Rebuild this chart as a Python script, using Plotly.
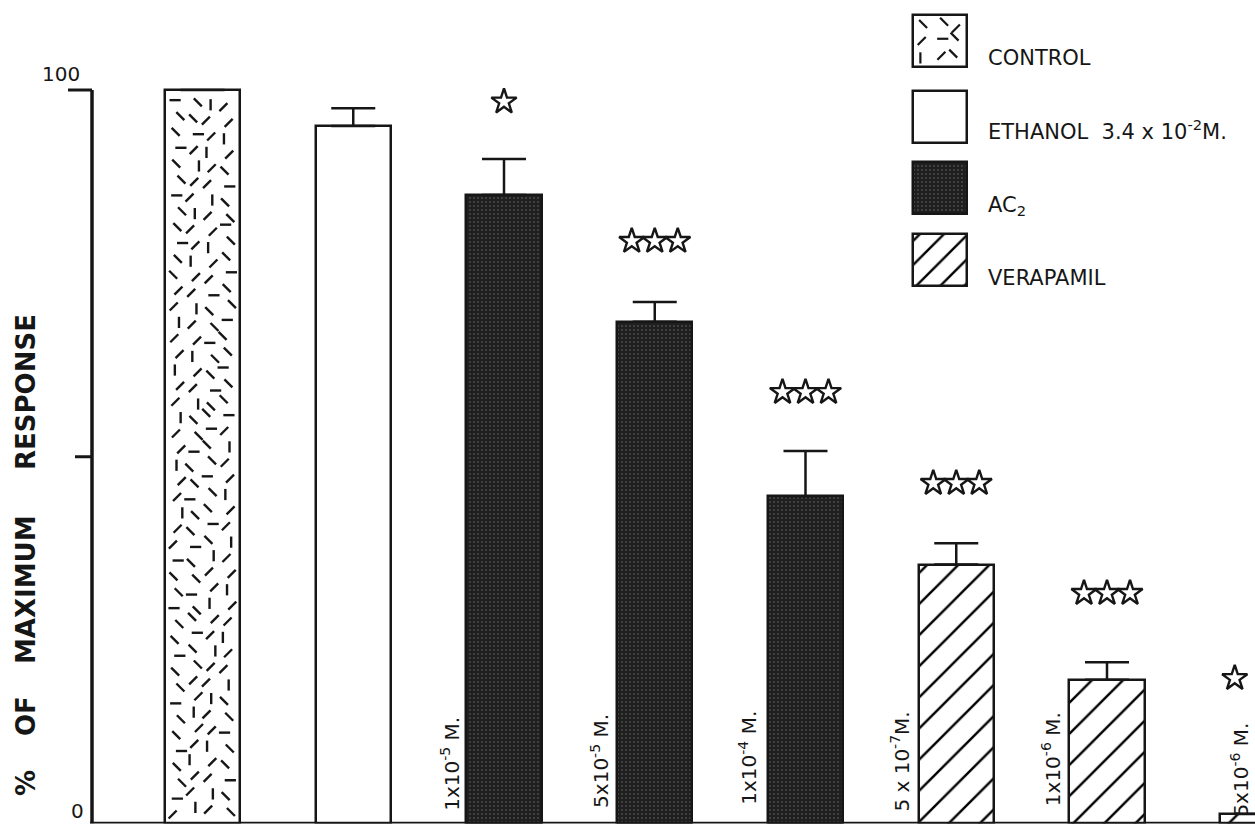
import plotly.graph_objects as go

# ---- data -------------------------------------------------------------
groups = ["control", "ethanol", "ac2", "ac2", "ac2",
          "verapamil", "verapamil", "verapamil"]
dose_labels = ["", "",
               "1x10<sup>-5</sup> M.", "5x10<sup>-5</sup> M.", "1x10<sup>-4</sup> M.",
               "5 x 10<sup>-7</sup>M.", "1x10<sup>-6</sup> M.", "5x10<sup>-6</sup> M."]
response = [100.0, 95.1, 85.7, 68.4, 44.6, 35.3, 19.6, 1.3]
sem = [0.0, 2.4, 4.9, 2.7, 6.2, 2.9, 2.4, 0.0]
n_stars = [0, 0, 1, 3, 3, 3, 3, 3]
legend_names = ["CONTROL", "ETHANOL  3.4 x 10<sup>-2</sup>M.", "AC<sub>2</sub>", "VERAPAMIL"]
legend_groups = ["control", "ethanol", "ac2", "verapamil"]
y_tick_values = [0, 50, 100]
y_tick_labels = ["0", "", "100"]

# ---- layout constants (pixels) -----------------------------------------
W, H = 1255, 827
AX_LEFT = 92          # x of the vertical axis
BASE_Y = 823.5        # y of the zero line
PX_PER_UNIT = 7.335   # vertical pixels per response unit
FIRST = 202.5         # x of the first bar centre
SLOT = 150.75         # distance between bar centres
BAR_W = 0.5
INK = "#161616"
FONT = "DejaVu Sans"

star_level = [None, None, 98.4, 79.4, 58.8, 46.4, 31.4, 19.8]
star_gap = 23 / SLOT
dose_offset = [0, 0, -0.355, -0.36, -0.38, -0.37, -0.37, -0.12]
dose_level = [0, 0, 8.2, 8.6, 9.0, 8.5, 8.8, 7.3]


def pxx(x):
    return x / W


def pxy(y):
    return 1 - y / H


x_range = [(AX_LEFT - FIRST) / SLOT, (W - FIRST) / SLOT]
y_range = [0, BASE_Y / PX_PER_UNIT]

styles = {
    "control": dict(color="white"),
    "ethanol": dict(color="white"),
    "ac2": dict(color="#1f1f1f",
                pattern=dict(shape=".", bgcolor="#1f1f1f", fgcolor="#777777",
                             size=4, solidity=0.2)),
    "verapamil": dict(color="white",
                      pattern=dict(shape="/", bgcolor="white", fgcolor="#000000",
                                   fgopacity=1, size=22, solidity=0.11)),
}


def dash_field(x0, x1, y0, y1, nx, ny, shift=0):
    """Scattered short strokes used as the texture of the control fill."""
    symbols = ["line-ne", "line-nw", "line-ns", "line-ew", "line-ne", "line-nw"]
    xs, ys, syms = [], [], []
    for j in range(ny):
        for i in range(nx):
            k = j * nx + i + shift
            jx = ((k * 0.6180339887) % 1 - 0.5) * 0.6
            jy = ((k * 0.7548776662) % 1 - 0.5) * 0.6
            xs.append(x0 + (i + 0.5 + jx) * (x1 - x0) / nx)
            ys.append(y0 + (j + 0.5 + jy) * (y1 - y0) / ny)
            syms.append(symbols[int((k * 0.4142135 * 6) % 6)])
    return xs, ys, syms


fig = go.Figure()

# ---- bars -------------------------------------------------------------
for g in legend_groups:
    idx = [i for i, gg in enumerate(groups) if gg == g]
    st = styles[g]
    marker = dict(color=st["color"], line=dict(color=INK, width=2.5))
    if "pattern" in st:
        marker["pattern"] = st["pattern"]
    fig.add_trace(go.Bar(
        x=idx, y=[response[i] for i in idx], width=BAR_W,
        marker=marker, showlegend=False,
        error_y=dict(type="data", symmetric=False,
                     array=[sem[i] for i in idx],
                     arrayminus=[0] * len(idx),
                     color=INK, thickness=2.5, width=22,
                     visible=True),
        xaxis="x", yaxis="y", cliponaxis=False,
    ))

# control texture
ci = groups.index("control")
tx, ty, ts = dash_field(ci - BAR_W / 2 + 0.03, ci + BAR_W / 2 - 0.03,
                        0.8, response[ci] - 0.8, 4, 46)
fig.add_trace(go.Scatter(
    x=tx, y=ty, mode="markers", showlegend=False, hoverinfo="skip",
    marker=dict(symbol=ts, size=8, color=INK, line=dict(color=INK, width=2.4)),
    xaxis="x", yaxis="y"))

# significance stars
sx, sy = [], []
for i, n in enumerate(n_stars):
    for s in range(n):
        sx.append(i + (s - (n - 1) / 2) * star_gap)
        sy.append(star_level[i])
fig.add_trace(go.Scatter(
    x=sx, y=sy, mode="markers", showlegend=False, hoverinfo="skip",
    marker=dict(symbol="star-open", size=19, color=INK,
                line=dict(color=INK, width=2.4)),
    xaxis="x", yaxis="y", cliponaxis=False))

# ---- legend swatches (pixel space) ------------------------------------------
box_x0, box_w, box_h = 913, 54, 52
box_cy = [40.5, 117, 187.5, 259.5]
for g, cy in zip(legend_groups, box_cy):
    st = styles[g]
    marker = dict(color=st["color"], line=dict(color=INK, width=2.5))
    if "pattern" in st:
        p = dict(st["pattern"])
        if g == "verapamil":
            p["size"] = 17
            p["solidity"] = 0.14
        marker["pattern"] = p
    fig.add_trace(go.Bar(
        orientation="h", y=[cy], x=[box_w], base=[box_x0], width=[box_h],
        marker=marker, showlegend=False, hoverinfo="skip",
        xaxis="x2", yaxis="y2"))

lx, ly, ls = dash_field(box_x0 + 4, box_x0 + box_w - 4,
                        box_cy[0] - box_h / 2 + 4, box_cy[0] + box_h / 2 - 4, 3, 3, 7)
fig.add_trace(go.Scatter(
    x=lx, y=ly, mode="markers", showlegend=False, hoverinfo="skip",
    marker=dict(symbol=ls, size=8, color=INK, line=dict(color=INK, width=2.2)),
    xaxis="x2", yaxis="y2"))

annotations = []
legend_text_y = [58, 130, 206, 278]
for name, ty_ in zip(legend_names, legend_text_y):
    annotations.append(dict(
        x=986, y=ty_, xref="x2", yref="y2", text=name, showarrow=False,
        xanchor="left", yanchor="middle",
        font=dict(family=FONT, size=21, color=INK)))

# ---- axes drawn as shapes ------------------------------------------------
shapes = [
    dict(type="line", xref="paper", yref="y", x0=pxx(AX_LEFT), x1=pxx(AX_LEFT),
         y0=0, y1=100, line=dict(color=INK, width=3.5)),
    dict(type="line", xref="paper", yref="y", x0=pxx(AX_LEFT - 2), x1=1,
         y0=0, y1=0, line=dict(color=INK, width=3.5)),
    dict(type="line", xref="paper", yref="y", x0=pxx(68), x1=pxx(AX_LEFT),
         y0=100, y1=100, line=dict(color=INK, width=3)),
    dict(type="line", xref="paper", yref="y", x0=pxx(75), x1=pxx(AX_LEFT),
         y0=50, y1=50, line=dict(color=INK, width=3)),
]

# tick labels
for v, lab in zip(y_tick_values, y_tick_labels):
    if not lab:
        continue
    shift = 16 if v == 100 else 13
    xpos = 61 if v == 100 else 77
    annotations.append(dict(x=pxx(xpos), y=v, xref="paper", yref="y", text=lab,
                            showarrow=False, yshift=shift,
                            xanchor="center", yanchor="middle",
                            font=dict(family=FONT, size=20, color=INK)))

# y-axis title, word by word
for word, cy in [("%", 783), ("OF", 716), ("MAXIMUM", 590), ("RESPONSE", 392)]:
    annotations.append(dict(x=pxx(26), y=pxy(cy), xref="paper", yref="paper",
                            text=word, showarrow=False, textangle=-90,
                            xanchor="center", yanchor="middle",
                            font=dict(family=FONT, size=26, color=INK,
                                      weight="bold")))

# dose labels
for i in range(len(response)):
    if dose_labels[i]:
        annotations.append(dict(x=i + dose_offset[i], y=dose_level[i], xref="x", yref="y",
                                text=dose_labels[i], showarrow=False, textangle=-90,
                                xanchor="center", yanchor="middle",
                                font=dict(family=FONT, size=20, color=INK)))

fig.update_layout(
    width=W, height=H,
    margin=dict(l=0, r=0, t=0, b=0),
    paper_bgcolor="white", plot_bgcolor="rgba(0,0,0,0)",
    barmode="overlay", bargap=0,
    xaxis=dict(domain=[pxx(AX_LEFT), 1], range=x_range, visible=False,
               fixedrange=True),
    yaxis=dict(domain=[1 - BASE_Y / H, 1], range=y_range, visible=False,
               fixedrange=True),
    xaxis2=dict(domain=[0, 1], range=[0, W], visible=False, anchor="y2",
                fixedrange=True),
    yaxis2=dict(domain=[0, 1], range=[H, 0], visible=False, anchor="x2",
                fixedrange=True),
    shapes=shapes,
    annotations=annotations,
    showlegend=False,
)

fig.write_html("out.html")
